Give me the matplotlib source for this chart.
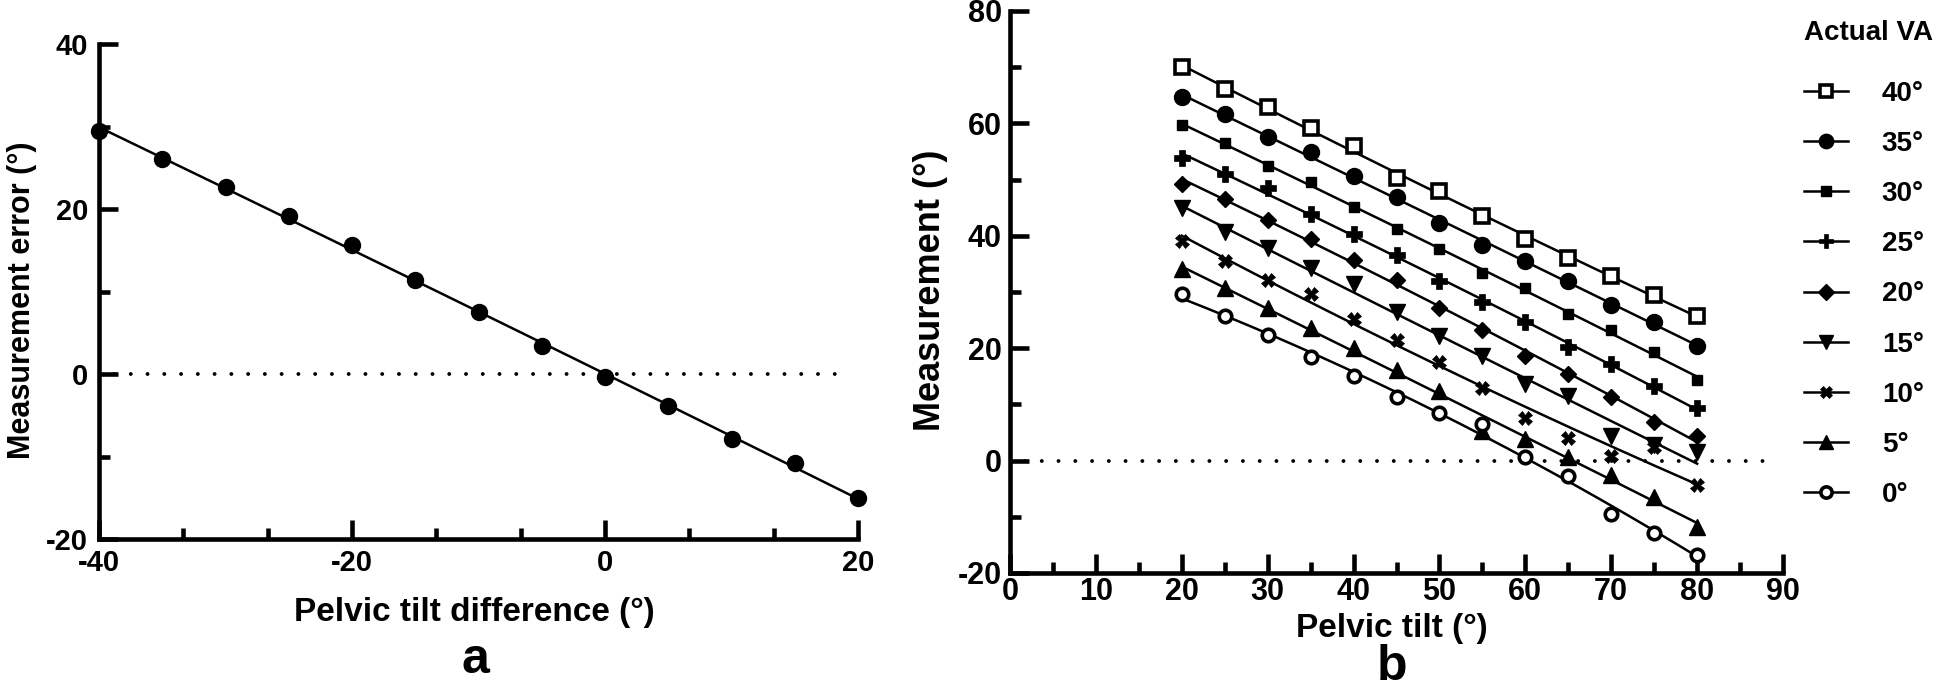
import numpy as np
import matplotlib
matplotlib.use("Agg")
import matplotlib.pyplot as plt
from matplotlib.lines import Line2D

plt.rcParams['font.family'] = ['Liberation Sans', 'DejaVu Sans']
plt.rcParams['font.weight'] = 'bold'
plt.rcParams['axes.unicode_minus'] = False

# ---------------- data ----------------
# panel a
tilt_diff = [-40, -35, -30, -25, -20, -15, -10, -5, 0, 5, 10, 15, 20]
meas_error = [29.5, 26.1, 22.7, 19.2, 15.6, 11.4, 7.5, 3.4, -0.4, -3.9, -7.9, -10.8, -15.0]

# panel b
pelvic_tilt = [20, 25, 30, 35, 40, 45, 50, 55, 60, 65, 70, 75, 80]
va_labels = ['40°', '35°', '30°', '25°', '20°', '15°', '10°', '5°', '0°']
va_40 = [70.0, 66.2, 62.9, 59.2, 56.0, 50.2, 47.9, 43.6, 39.5, 36.0, 32.8, 29.4, 25.8]
va_35 = [64.7, 61.6, 57.5, 54.9, 50.6, 46.9, 42.3, 38.3, 35.5, 32.0, 27.7, 24.7, 20.4]
va_30 = [59.7, 56.6, 52.4, 49.6, 45.1, 41.2, 37.7, 33.4, 30.7, 26.0, 23.2, 19.4, 14.3]
va_25 = [53.8, 51.0, 48.5, 43.9, 40.4, 36.6, 31.9, 28.3, 24.7, 20.2, 17.1, 13.2, 9.4]
va_20 = [49.3, 46.6, 42.9, 39.4, 35.7, 32.1, 27.2, 23.2, 18.7, 15.4, 11.3, 6.9, 4.3]
va_15 = [44.9, 40.6, 37.9, 34.3, 31.5, 26.4, 22.1, 18.7, 13.6, 11.5, 4.3, 2.8, 1.5]
va_10 = [39.1, 35.5, 32.1, 29.6, 25.2, 21.5, 17.5, 13.0, 7.5, 4.1, 0.9, 2.4, -4.3]
va_5 = [34.1, 30.7, 27.2, 23.6, 20.0, 16.2, 12.4, 5.3, 3.9, 0.7, -2.5, -6.5, -11.8]
va_0 = [29.6, 25.8, 22.4, 18.5, 15.1, 11.3, 8.5, 6.6, 0.7, -2.7, -9.5, -12.9, -16.8]
series_b = [va_40, va_35, va_30, va_25, va_20, va_15, va_10, va_5, va_0]

# marker styles per series: (marker, size, facecolor, edgewidth)
styles = [('s', 10, 'white', 2.6), ('o', 11.5, 'black', 1.0), ('s', 7.5, 'black', 1.0),
          ('P', 11, 'black', 0.5), ('D', 8.5, 'black', 1.0), ('v', 11, 'black', 1.0),
          ('X', 9.5, 'black', 0.5), ('^', 11, 'black', 1.0), ('o', 9, 'white', 2.6)]

W, H = 1946, 694
fig = plt.figure(figsize=(W / 100, H / 100), dpi=100)

SPINE_LW = 3.3


def style_axes(ax, fs):
    for s in ['top', 'right']:
        ax.spines[s].set_visible(False)
    for s in ['left', 'bottom']:
        ax.spines[s].set_linewidth(SPINE_LW)
        ax.spines[s].set_capstyle('projecting')
    ax.tick_params(which='major', direction='in', length=14, width=SPINE_LW,
                   labelsize=fs)
    ax.tick_params(which='minor', direction='in', length=8, width=SPINE_LW)
    for lab in ax.get_xticklabels() + ax.get_yticklabels():
        lab.set_fontweight('bold')


def px_axes(left, right, top, bottom):
    return fig.add_axes([left / W, 1 - bottom / H, (right - left) / W, (bottom - top) / H])


DOTS = dict(color='black', lw=2.8, linestyle=(0, (0.01, 4.3)), dash_capstyle='round', zorder=1)

# ---------------- panel a ----------------
axa = px_axes(99, 858, 44, 539)
xa = np.array(tilt_diff, float)
ya = np.array(meas_error, float)
ca = np.polyfit(xa, ya, 2)
xx = np.linspace(xa.min(), xa.max(), 200)
axa.plot(xx, np.polyval(ca, xx), color='black', lw=1.8, zorder=2)
axa.plot(xa, ya, 'o', color='black', ms=11.5, clip_on=False, zorder=3)
axa.axhline(0, xmin=0.02, xmax=0.985, **DOTS)
axa.set_xlim(-40, 20)
axa.set_ylim(-20, 40)
axa.set_xticks([-40, -20, 0, 20])
axa.set_xticks([-40 + 20 / 3 * k for k in range(10) if k % 3 != 0], minor=True)
axa.set_yticks([-20, 0, 20, 40])
axa.set_yticks([-10, 10, 30], minor=True)
style_axes(axa, 21)
axa.tick_params(axis='y', which='major', pad=8)
axa.tick_params(axis='x', which='major', pad=7)
fig.text(22 / W, 1 - 300 / H, 'Measurement error (°)', rotation=90, fontsize=22,
         fontweight='bold', ha='center', va='center')
fig.text(474 / W, 1 - 612 / H, 'Pelvic tilt difference (°)', fontsize=24,
         fontweight='bold', ha='center', va='center')
fig.text(475 / W, 1 - 660 / H, 'a', fontsize=36, fontweight='bold',
         ha='center', va='center')

# ---------------- panel b ----------------
axb = px_axes(1010, 1783, 11, 573)
xb = np.array(pelvic_tilt, float)
handles = []
for vals, (mk, ms, fc, mew) in zip(series_b, styles):
    yb = np.array(vals, float)
    cb = np.polyfit(xb, yb, 2)
    xs = np.linspace(xb.min(), xb.max(), 200)
    axb.plot(xs, np.polyval(cb, xs), color='black', lw=1.8, zorder=2)
    axb.plot(xb, yb, linestyle='none', marker=mk, ms=ms, mfc=fc, mec='black',
             mew=mew, clip_on=False, zorder=3)
    handles.append(Line2D([], [], color='black', lw=1.8, marker=mk, ms=ms * 0.9,
                          mfc=fc, mec='black', mew=mew))
axb.axhline(0, xmin=0.02, xmax=0.975, **DOTS)
axb.set_xlim(0, 90)
axb.set_ylim(-20, 80)
axb.set_xticks(range(0, 91, 10))
axb.set_xticks(range(5, 90, 10), minor=True)
axb.set_yticks(range(-20, 81, 20))
axb.set_yticks(range(-10, 80, 20), minor=True)
style_axes(axb, 22)
axb.tick_params(axis='y', which='major', pad=6)
axb.tick_params(axis='x', which='major', pad=3)
fig.text(931 / W, 1 - 290 / H, 'Measurement (°)', rotation=90, fontsize=26,
         fontweight='bold', ha='center', va='center')
fig.text(1392 / W, 1 - 629 / H, 'Pelvic tilt (°)', fontsize=24,
         fontweight='bold', ha='center', va='center')
fig.text(1392 / W, 1 - 667 / H, 'b', fontsize=36, fontweight='bold',
         ha='center', va='center')

leg = fig.legend(handles=handles, labels=va_labels, loc='upper left',
                 bbox_to_anchor=(1804 / W, 1 - 20 / H), frameon=False,
                 title='Actual VA', title_fontproperties={'weight': 'bold', 'size': 20},
                 prop={'weight': 'bold', 'size': 20}, handlelength=1.6,
                 labelspacing=0.87, handletextpad=1.2, alignment='left',
                 borderpad=0.0, borderaxespad=0.0)
leg._legend_box.sep = 25

fig.savefig('out.png', dpi=100)
